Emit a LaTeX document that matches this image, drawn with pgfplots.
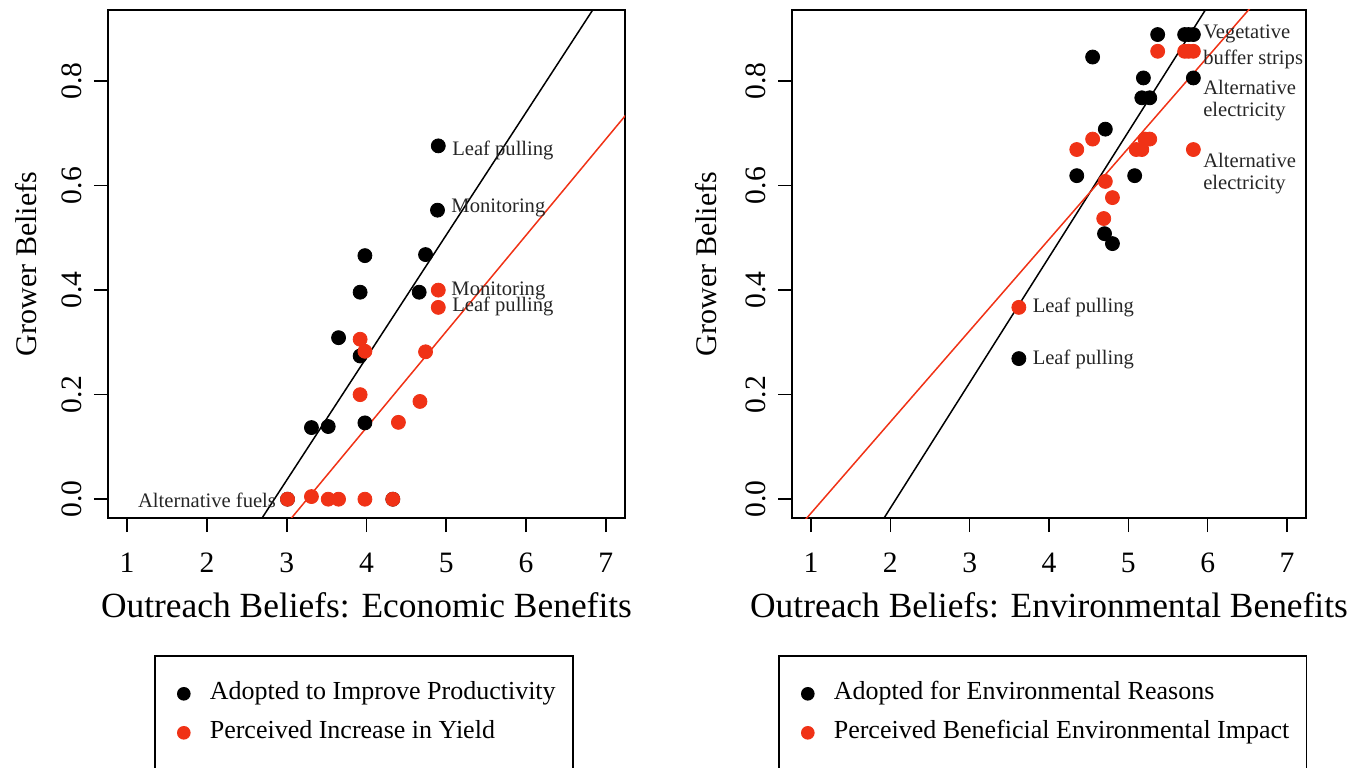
\documentclass[border=0pt]{standalone}
\usepackage{pgfplots}
\pgfplotsset{compat=1.18}
\usepackage{fontspec}
\setmainfont{Liberation Serif}
\definecolor{rred}{RGB}{240,50,22}
\tikzset{ann/.style={anchor=west, inner sep=0pt, font=\fontsize{10.3}{12}\selectfont, text=black!85}}
\pgfplotsset{
 rstyle/.style={
  scale only axis, width=258.5pt, height=254pt,
  xmin=0.76, xmax=7.24, ymin=-0.036, ymax=0.936,
  xtick={1,2,3,4,5,6,7}, ytick={0,0.2,0.4,0.6,0.8},
  xtick pos=left, ytick pos=left, tick align=outside, major tick length=7pt,
  minor tick num=0,
  axis line style={line width=0.8pt}, tick style={line width=0.8pt, black},
  /pgf/number format/assume math mode=true,
  ticklabel style={font=\fontsize{14.8}{17}\selectfont},
  xticklabel style={anchor=center, yshift=-15.5pt},
  yticklabel style={rotate=90, anchor=center, yshift=11pt,
     /pgf/number format/fixed, /pgf/number format/fixed zerofill, /pgf/number format/precision=1},
  xlabel style={at={(axis description cs:0.5,-0.171)}, anchor=center, font=\fontsize{17.7}{20}\selectfont},
  ylabel style={anchor=center, font=\fontsize{15}{18}\selectfont},
  ylabel={Grower Beliefs},
  legend cell align=left,
  legend style={anchor=north west, draw=black, line width=0.8pt,
     inner xsep=8.5pt, inner ysep=13pt, row sep=7.5pt, column sep=10pt,
     font=\fontsize{13}{15}\selectfont,
     nodes={inner sep=0pt, text height=9pt, text depth=3pt}},
  legend image code/.code={\path[draw=none,fill=none] (-6pt,0pt) -- (3pt,0pt); \draw[#1, mark size=3pt] plot coordinates {(0pt,0pt)};},
 },
 bdot/.style={only marks, mark=*, mark size=3.5pt, color=black, mark options={draw=none, fill=black}},
 rdot/.style={only marks, mark=*, mark size=3.5pt, color=rred, mark options={draw=none, fill=rred}},
}
\pgfplotstableread{
x y
4.90 0.676
4.89 0.553
3.98 0.466
4.74 0.468
3.92 0.396
4.66 0.396
3.65 0.309
3.92 0.274
3.31 0.137
3.52 0.139
3.98 0.146
3.01 0.000
4.33 0.000
}\econblack
\pgfplotstableread{
x y
4.90 0.400
4.90 0.367
3.92 0.306
3.98 0.283
4.74 0.282
3.92 0.200
4.67 0.187
4.40 0.147
3.01 0.000
3.31 0.005
3.52 0.000
3.65 0.000
3.98 0.000
4.33 0.000
}\econred
\pgfplotstableread{
x y
5.37 0.889
5.71 0.889
5.76 0.889
5.82 0.889
4.55 0.846
5.19 0.806
5.82 0.806
5.17 0.768
5.27 0.768
4.71 0.708
4.35 0.619
5.08 0.619
4.70 0.508
4.80 0.489
3.62 0.269
}\envblack
\pgfplotstableread{
x y
5.37 0.857
5.71 0.857
5.76 0.857
5.82 0.857
4.55 0.689
4.35 0.669
5.10 0.669
5.17 0.669
5.21 0.689
5.27 0.689
5.82 0.669
4.71 0.608
4.80 0.577
4.69 0.537
3.62 0.367
}\envred
\begin{document}
\begin{tikzpicture}
\useasboundingbox (0,0) rectangle (678pt,383.5pt);
\clip (0,0) rectangle (678pt,383.5pt);
\begin{axis}[rstyle, at={(54pt,124.5pt)}, anchor=south west,
  xlabel={Outreach Beliefs: Economic Benefits},
  ylabel style={at={(axis description cs:-0.158,0.5)}},
  legend style={at={(0.089,-0.2697)}}]
\addplot[bdot] table {\econblack};
\addlegendentry{Adopted to Improve Productivity}
\addplot[rdot] table {\econred};
\addlegendentry{Perceived Increase in Yield}
\addlegendimage{empty legend}
\addlegendentry{}
\addplot[black, line width=0.75pt, forget plot] coordinates {(0.5,-0.550) (7.5,1.092)};
\addplot[rred, line width=0.75pt, forget plot] coordinates {(0.5,-0.507) (7.5,0.781)};
\node[ann] at (axis cs:5.07,0.668) {Leaf pulling};
\node[ann] at (axis cs:5.06,0.557) {Monitoring};
\node[ann] at (axis cs:5.06,0.399) {Monitoring};
\node[ann] at (axis cs:5.07,0.368) {Leaf pulling};
\node[ann, anchor=east] at (axis cs:2.87,-0.002) {Alternative fuels};
\end{axis}
\begin{axis}[rstyle, at={(396pt,124.5pt)}, anchor=south west, width=257pt,
  xlabel={Outreach Beliefs: Environmental Benefits},
  ylabel style={at={(axis description cs:-0.168,0.5)}},
  legend style={at={(-0.0272,-0.2697)}}]
\addplot[bdot] table {\envblack};
\addlegendentry{Adopted for Environmental Reasons}
\addplot[rdot] table {\envred};
\addlegendentry{Perceived Beneficial Environmental Impact}
\addlegendimage{empty legend}
\addlegendentry{}
\addplot[black, line width=0.75pt, forget plot] coordinates {(0.5,-0.377) (7.5,1.303)};
\addplot[rred, line width=0.75pt, forget plot] coordinates {(0.5,-0.114) (7.5,1.108)};
\node[ann] at (axis cs:5.94,0.891) {Vegetative};
\node[ann] at (axis cs:5.94,0.841) {buffer strips};
\node[ann] at (axis cs:5.94,0.788) {Alternative};
\node[ann] at (axis cs:5.94,0.742) {electricity};
\node[ann] at (axis cs:5.94,0.648) {Alternative};
\node[ann] at (axis cs:5.94,0.602) {electricity};
\node[ann] at (axis cs:3.79,0.367) {Leaf pulling};
\node[ann] at (axis cs:3.79,0.268) {Leaf pulling};
\end{axis}
\end{tikzpicture}
\end{document}
